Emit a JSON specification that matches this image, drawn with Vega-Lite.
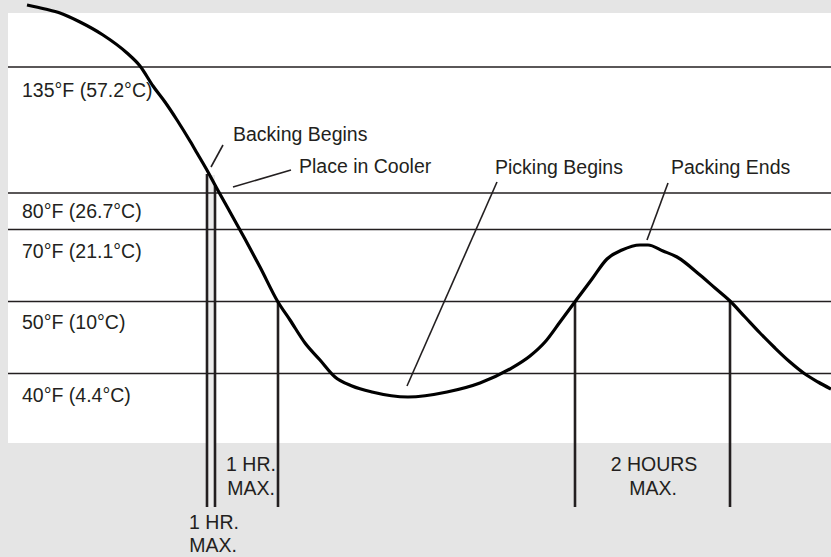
{
  "$schema": "https://vega.github.io/schema/vega-lite/v6.json",
  "width": 831,
  "height": 557,
  "padding": 0,
  "autosize": {"type": "none"},
  "background": "#e5e5e5",
  "config": {"view": {"stroke": null}},
  "datasets": {
    "panel": [{"x": 8, "x2": 831, "y": 13, "y2": 443}],
    "band": [{"x": 207, "x2": 215, "y": 175, "y2": 507}],
    "levels": [
      {"y": 67, "label": "135°F (57.2°C)", "ly": 91},
      {"y": 193, "label": "80°F (26.7°C)", "ly": 212},
      {"y": 229.5, "label": "70°F (21.1°C)", "ly": 252},
      {"y": 301.5, "label": "50°F (10°C)", "ly": 323},
      {"y": 373.5, "label": "40°F (4.4°C)", "ly": 396}
    ],
    "verticals": [
      {"x": 207, "y": 174, "y2": 507},
      {"x": 215, "y": 186, "y2": 507},
      {"x": 278, "y": 302, "y2": 507},
      {"x": 575, "y": 301, "y2": 507},
      {"x": 730, "y": 301, "y2": 507}
    ],
    "leaders": [
      {"x": 211, "y": 167, "x2": 223, "y2": 145},
      {"x": 233, "y": 187, "x2": 291, "y2": 170},
      {"x": 407, "y": 386, "x2": 497, "y2": 182},
      {"x": 647, "y": 240, "x2": 668, "y2": 183}
    ],
    "curve": [
      {"t": 27, "v": 5}, {"t": 45, "v": 9}, {"t": 60, "v": 13}, {"t": 80, "v": 22},
      {"t": 103, "v": 35}, {"t": 127, "v": 53}, {"t": 140, "v": 66}, {"t": 153, "v": 86},
      {"t": 165, "v": 102}, {"t": 177, "v": 120}, {"t": 190, "v": 141}, {"t": 197, "v": 153},
      {"t": 208, "v": 172}, {"t": 215, "v": 185}, {"t": 230, "v": 212}, {"t": 245, "v": 239},
      {"t": 260, "v": 267}, {"t": 278, "v": 302}, {"t": 290, "v": 320}, {"t": 305, "v": 343},
      {"t": 320, "v": 360}, {"t": 335, "v": 377}, {"t": 352, "v": 386}, {"t": 372, "v": 392},
      {"t": 408, "v": 397}, {"t": 447, "v": 392}, {"t": 480, "v": 383}, {"t": 510, "v": 369},
      {"t": 530, "v": 356}, {"t": 545, "v": 342}, {"t": 560, "v": 322}, {"t": 577, "v": 299},
      {"t": 592, "v": 279}, {"t": 607, "v": 259}, {"t": 622, "v": 250}, {"t": 640, "v": 245},
      {"t": 648, "v": 245}, {"t": 663, "v": 251}, {"t": 677, "v": 257}, {"t": 700, "v": 275},
      {"t": 715, "v": 288}, {"t": 730, "v": 301}, {"t": 745, "v": 317}, {"t": 760, "v": 333},
      {"t": 775, "v": 348}, {"t": 790, "v": 362}, {"t": 805, "v": 374}, {"t": 818, "v": 382},
      {"t": 831, "v": 389}
    ],
    "notes": [
      {"x": 233, "y": 135, "text": "Backing Begins"},
      {"x": 299, "y": 167, "text": "Place in Cooler"},
      {"x": 495, "y": 168, "text": "Picking Begins"},
      {"x": 671, "y": 168, "text": "Packing Ends"}
    ],
    "durations": [
      {"x": 251, "y": 465, "text": "1 HR."},
      {"x": 251, "y": 489, "text": "MAX."},
      {"x": 214, "y": 523, "text": "1 HR."},
      {"x": 213, "y": 546, "text": "MAX."},
      {"x": 654, "y": 465, "text": "2 HOURS"},
      {"x": 653, "y": 489, "text": "MAX."}
    ]
  },
  "layer": [
    {
      "data": {"name": "panel"},
      "mark": {"type": "rect", "color": "#ffffff"},
      "encoding": {
        "x": {"field": "x", "type": "quantitative", "scale": {"domain": [0, 831], "nice": false, "zero": false}, "axis": null},
        "x2": {"field": "x2"},
        "y": {"field": "y", "type": "quantitative", "scale": {"domain": [0, 557], "nice": false, "zero": false, "reverse": true}, "axis": null},
        "y2": {"field": "y2"}
      }
    },
    {
      "data": {"name": "band"},
      "mark": {"type": "rect", "color": "#ececec"},
      "encoding": {
        "x": {"field": "x", "type": "quantitative"},
        "x2": {"field": "x2"},
        "y": {"field": "y", "type": "quantitative"},
        "y2": {"field": "y2"}
      }
    },
    {
      "data": {"name": "levels"},
      "mark": {"type": "rule", "color": "#231f20", "strokeWidth": 1.3},
      "encoding": {
        "x": {"datum": 8, "type": "quantitative"},
        "x2": {"datum": 831},
        "y": {"field": "y", "type": "quantitative"}
      }
    },
    {
      "data": {"name": "levels"},
      "mark": {"type": "text", "align": "left", "baseline": "middle", "font": "Liberation Sans", "fontSize": 19.5, "color": "#231f20"},
      "encoding": {
        "x": {"datum": 22, "type": "quantitative"},
        "y": {"field": "ly", "type": "quantitative"},
        "text": {"field": "label"}
      }
    },
    {
      "data": {"name": "verticals"},
      "mark": {"type": "rule", "color": "#231f20", "strokeWidth": 2.6},
      "encoding": {
        "x": {"field": "x", "type": "quantitative"},
        "y": {"field": "y", "type": "quantitative"},
        "y2": {"field": "y2"}
      }
    },
    {
      "data": {"name": "leaders"},
      "mark": {"type": "rule", "color": "#231f20", "strokeWidth": 1.6},
      "encoding": {
        "x": {"field": "x", "type": "quantitative"},
        "x2": {"field": "x2"},
        "y": {"field": "y", "type": "quantitative"},
        "y2": {"field": "y2"}
      }
    },
    {
      "data": {"name": "curve"},
      "mark": {"type": "line", "color": "#000000", "strokeWidth": 3.2, "interpolate": "monotone", "strokeJoin": "round"},
      "encoding": {
        "x": {"field": "t", "type": "quantitative"},
        "y": {"field": "v", "type": "quantitative"}
      }
    },
    {
      "data": {"name": "notes"},
      "mark": {"type": "text", "align": "left", "baseline": "middle", "font": "Liberation Sans", "fontSize": 19.5, "color": "#231f20"},
      "encoding": {
        "x": {"field": "x", "type": "quantitative"},
        "y": {"field": "y", "type": "quantitative"},
        "text": {"field": "text"}
      }
    },
    {
      "data": {"name": "durations"},
      "mark": {"type": "text", "align": "center", "baseline": "middle", "font": "Liberation Sans", "fontSize": 19.5, "color": "#231f20"},
      "encoding": {
        "x": {"field": "x", "type": "quantitative"},
        "y": {"field": "y", "type": "quantitative"},
        "text": {"field": "text"}
      }
    }
  ]
}
